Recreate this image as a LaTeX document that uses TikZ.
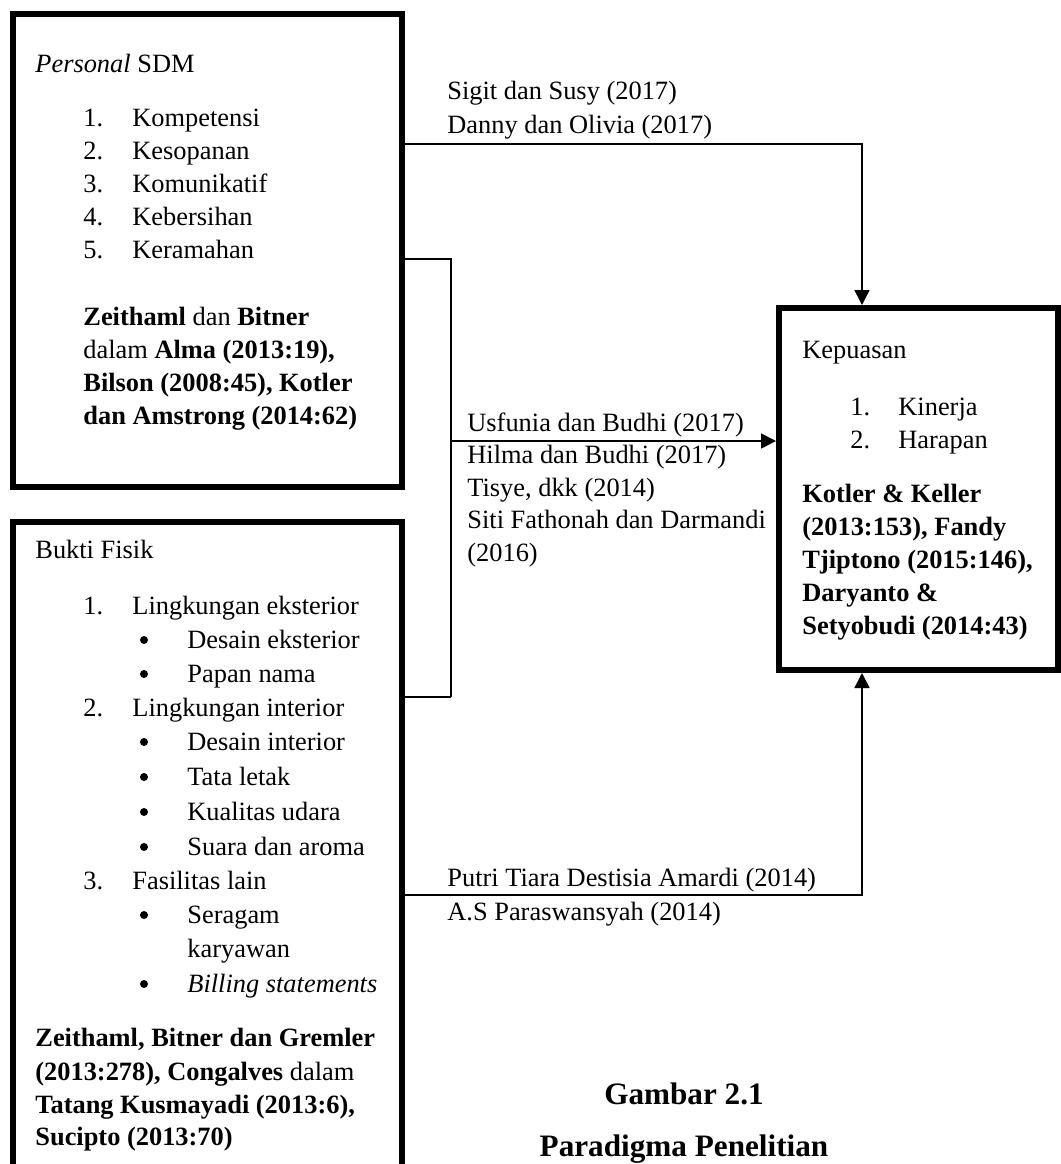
\documentclass[tikz,border=0pt]{standalone}
\usepackage{fontspec}
\setmainfont{Liberation Serif}
\usetikzlibrary{arrows.meta}
\tikzset{
	box/.style={draw, line width=3pt, inner sep=0pt},
	txt/.style={anchor=base west, inner sep=0pt, font=\fontsize{13.2}{16}\selectfont},
	dot/.style={circle, fill, inner sep=0pt, minimum size=4pt},
	link/.style={line width=0.75pt},
	arr/.style={line width=0.75pt, -{Triangle[width=7.5pt,length=7.5pt]}},
	caption/.style={anchor=base, inner sep=0pt, font=\fontsize{15.6}{19}\selectfont\bfseries}
}
\begin{document}
\begin{tikzpicture}[x=0.5pt, y=-0.5pt]
	\clip (0,0) rectangle (1061,1164);
	\node[box, minimum width=194.5pt, minimum height=236.5pt] (sdm) at (207.5, 250.5) {};
	\node[box, minimum width=194.5pt, minimum height=339pt] (fisik) at (207.5, 861) {};
	\node[box, minimum width=139.5pt, minimum height=181pt] (puas) at (918.5, 489) {};
	
	% Personal SDM
	\node[txt] (sdmT) at (35, 72) {\textit{Personal} SDM};
	\foreach \i/\t/\y in {1/Kompetensi/126, 2/Kesopanan/159, 3/Komunikatif/192, 4/Kebersihan/225, 5/Keramahan/258}{
		\node[txt] (sdmN\i) at (83, \y) {\i.};
		\node[txt] (sdmI\i) at (132, \y) {\t};
	}
	\node[txt] (sdmR1) at (83, 325) {\textbf{Zeithaml} dan \textbf{Bitner}};
	\node[txt] (sdmR2) at (83, 358) {dalam \textbf{Alma (2013:19),}};
	\node[txt] (sdmR3) at (83, 391) {\textbf{Bilson (2008:45), Kotler}};
	\node[txt] (sdmR4) at (83, 424) {\textbf{dan Amstrong (2014:62)}};
	
	% Bukti Fisik
	\node[txt] (fisT) at (35, 558) {Bukti Fisik};
	\node[txt] (fisN1) at (83, 614) {1.};
	\node[txt] (fisI1) at (132, 614) {Lingkungan eksterior};
	\node[dot] (fisD1) at (144, 640) {};
	\node[txt] (fisB1) at (187, 648) {Desain eksterior};
	\node[dot] (fisD2) at (144, 674) {};
	\node[txt] (fisB2) at (187, 682) {Papan nama};
	\node[txt] (fisN2) at (83, 716) {2.};
	\node[txt] (fisI2) at (132, 716) {Lingkungan interior};
	\node[dot] (fisD3) at (144, 742) {};
	\node[txt] (fisB3) at (187, 750) {Desain interior};
	\node[dot] (fisD4) at (144, 777) {};
	\node[txt] (fisB4) at (187, 785) {Tata letak};
	\node[dot] (fisD5) at (144, 812) {};
	\node[txt] (fisB5) at (187, 820) {Kualitas udara};
	\node[dot] (fisD6) at (144, 847) {};
	\node[txt] (fisB6) at (187, 855) {Suara dan aroma};
	\node[txt] (fisN3) at (83, 889) {3.};
	\node[txt] (fisI3) at (132, 889) {Fasilitas lain};
	\node[dot] (fisD7) at (144, 915) {};
	\node[txt] (fisB7) at (187, 923) {Seragam};
	\node[txt] (fisB7b) at (187, 957) {karyawan};
	\node[dot] (fisD8) at (144, 984) {};
	\node[txt] (fisB8) at (187, 992) {\textit{Billing statements}};
	\node[txt] (fisR1) at (35, 1046) {\textbf{Zeithaml, Bitner dan Gremler}};
	\node[txt] (fisR2) at (35, 1080) {\textbf{(2013:278), Congalves} dalam};
	\node[txt] (fisR3) at (35, 1113) {\textbf{Tatang Kusmayadi (2013:6),}};
	\node[txt] (fisR4) at (35, 1145) {\textbf{Sucipto (2013:70)}};
	
	% Kepuasan
	\node[txt] (puasT) at (802, 358) {Kepuasan};
	\node[txt] (puasN1) at (850, 415) {1.};
	\node[txt] (puasI1) at (898, 415) {Kinerja};
	\node[txt] (puasN2) at (850, 448) {2.};
	\node[txt] (puasI2) at (898, 448) {Harapan};
	\node[txt] (puasR1) at (802, 502) {\textbf{Kotler \& Keller}};
	\node[txt] (puasR2) at (802, 535) {\textbf{(2013:153), Fandy}};
	\node[txt] (puasR3) at (802, 568) {\textbf{Tjiptono (2015:146),}};
	\node[txt] (puasR4) at (802, 601) {\textbf{Daryanto \&}};
	\node[txt] (puasR5) at (802, 634) {\textbf{Setyobudi (2014:43)}};
	
	% connector labels
	\node[txt] (lbSigit) at (447, 99) {Sigit dan Susy (2017)};
	\node[txt] (lbDanny) at (447, 133) {Danny dan Olivia (2017)};
	\node[txt] (lbUsf) at (467, 431) {Usfunia dan Budhi (2017)};
	\node[txt] (lbHilma) at (467, 463) {Hilma dan Budhi (2017)};
	\node[txt] (lbTisye) at (467, 496) {Tisye, dkk (2014)};
	\node[txt] (lbSiti) at (467, 528) {Siti Fathonah dan Darmandi};
	\node[txt] (lbSiti2) at (467, 561) {(2016)};
	\node[txt] (lbPutri) at (447, 886) {Putri Tiara Destisia Amardi (2014)};
	\node[txt] (lbAS) at (447, 920) {A.S Paraswansyah (2014)};
	
	% connectors
	\coordinate (k1) at (862, 144);
	\coordinate (k2) at (862, 895);
	\coordinate (j1) at (451, 259);
	\coordinate (j2) at (451, 697);
	\coordinate (j3) at (451, 441);
	\draw[arr] (sdm.east |- k1) -- (k1) -- (k1 |- puas.north);
	\draw[link] (sdm.east |- j1) -- (j1) -- (j2);
	\draw[link] (j2) -- (fisik.east |- j2);
	\draw[arr] (j3) -- (j3 -| puas.west);
	\draw[arr] (fisik.east |- k2) -- (k2) -- (k2 |- puas.south);
	
	\node[caption] (capA) at (684, 1104) {Gambar 2.1};
	\node[caption] (capB) at (684, 1156) {Paradigma Penelitian};
\end{tikzpicture}
\end{document}
